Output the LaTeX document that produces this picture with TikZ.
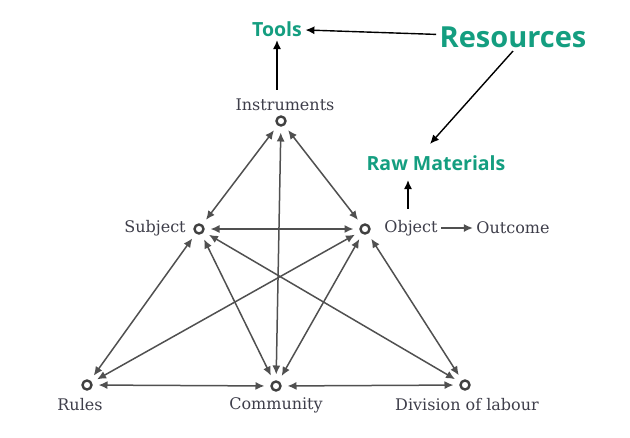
\documentclass[tikz,border=0pt]{standalone}
\usepackage{fontspec}
\setmainfont{DejaVu Serif}
\newfontfamily\greenfont{Open Sans}
\usepackage{tikz}
\usetikzlibrary{positioning, arrows.meta}

\definecolor{resgreen}{RGB}{20,158,128}
\definecolor{linkgray}{RGB}{80,80,80}
\definecolor{textgray}{RGB}{62,62,74}

\tikzset{
  >={Latex[length=9pt,width=8pt]},
  dot/.style={circle, draw=linkgray!80!black, line width=2.4pt, minimum size=9pt, inner sep=0pt, outer sep=7pt},
  link/.style={<->, line width=1.5pt, color=linkgray},
  lbl/.style={text=textgray, font=\fontsize{16}{19}\selectfont},
  res/.style={text=resgreen, font=\greenfont\bfseries\fontsize{19.5}{22}\selectfont},
  blk/.style={->, line width=1.4pt, black}
}

\begin{document}
\begin{tikzpicture}[x=1pt, y=-1pt]
\useasboundingbox (0,0) rectangle (630,437);
% the activity triangle
\node[dot] (inst) at (281,121) {};
\node[dot] (subj) at (199,229) {};
\node[dot] (obj) at (365,229) {};
\node[dot] (rules) at (87,385) {};
\node[dot] (comm) at (276,386) {};
\node[dot] (div) at (465,385) {};
%
\node[lbl] (instL) at (285,105) {Instruments};
\node[lbl] (subjL) at (155,228) {Subject};
\node[lbl] (objL) at (411,228) {Object};
\node[lbl] (outL) at (513,228) {Outcome};
\node[lbl] (rulesL) at (80,405) {Rules};
\node[lbl] (commL) at (276,405) {Community};
\node[lbl] (divL) at (467,405) {Division of labour};
%
\draw[link] (inst) -- (subj);
\draw[link] (inst) -- (obj);
\draw[link] (inst) -- (comm);
\draw[link] (subj) -- (obj);
\draw[link] (subj) -- (rules);
\draw[link] (subj) -- (comm);
\draw[link] (subj) -- (div);
\draw[link] (obj) -- (rules);
\draw[link] (obj) -- (comm);
\draw[link] (obj) -- (div);
\draw[link] (rules) -- (comm);
\draw[link] (comm) -- (div);
\draw[link, ->] (objL) -- (outL);
% resources
\node[res] (tools) at (277,29) {Tools};
\node[res, font=\greenfont\bfseries\fontsize{29}{34}\selectfont] (resrc) at (513,37) {Resources};
\node[res] (raw) at (436,163) {Raw Materials};
%
\draw[blk] (resrc) -- (tools);
\draw[blk] (resrc.south) -- ([xshift=-6pt, yshift=8pt]raw.north);
\draw[blk, shorten <=6pt] (instL.north -| tools) -- (tools);
\draw[blk, shorten <=8pt, shorten >=6pt] ([xshift=-3pt]objL.north) -- ([xshift=-3pt]objL.north |- raw.south);
\end{tikzpicture}
\end{document}
